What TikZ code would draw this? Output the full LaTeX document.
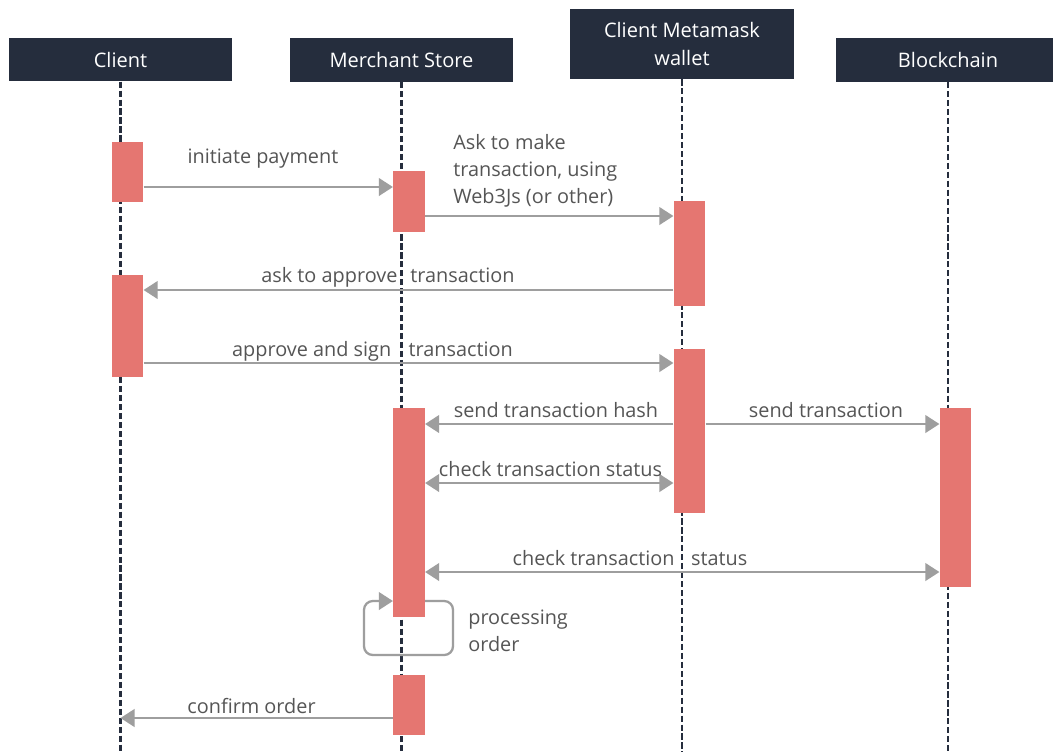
\documentclass[tikz,border=0pt]{standalone}
\usepackage{fontspec}
\setmainfont{Open Sans}
\usetikzlibrary{arrows.meta,positioning}
\definecolor{seqNavy}{RGB}{37,45,61}
\definecolor{seqRed}{RGB}{229,118,113}
\definecolor{seqGrey}{RGB}{158,158,158}
\definecolor{seqText}{RGB}{85,85,85}

\begin{document}
\begin{tikzpicture}[
    x=0.02cm, y=-0.02cm,
    head/.style={fill=seqNavy, text=white, align=center, minimum width=4.48cm, minimum height=0.87cm, inner sep=0pt, font=\fontsize{11.4}{15.4}\selectfont},
    act/.style={fill=seqRed, minimum width=0.63cm, inner sep=0pt},
    lifeline/.style={seqNavy, line width=1.2pt, dash pattern=on 3.5pt off 1.6pt},
    msg/.style={-{Triangle[length=8pt,width=10pt]}, line width=1.3pt, seqGrey},
    both/.style={{Triangle[length=8pt,width=10pt]}-{Triangle[length=8pt,width=10pt]}, line width=1.3pt, seqGrey},
    lbl/.style={text=seqText, align=left, inner sep=0pt, font=\fontsize{11.3}{15.2}\selectfont}
  ]
  \path[use as bounding box, clip] (0,0) rectangle (1053,752);
  \fill[white] (0,0) rectangle (1053,752);

  % participants
  \node[head] (client) at (120.5,59.5) {Client};
  \node[head] (store) at (401.5,60) {Merchant Store};
  \node[head, minimum height=1.4cm] (wallet) at (682,44) {Client Metamask\\wallet};
  \node[head] (chain) at (948,60) {Blockchain};

  % lifelines
  \foreach \p in {client,store,wallet,chain}
    \draw[lifeline] (\p.south) -- (\p.south |- 0,752);

  % activations
  \node[act, minimum height=1.2cm] (a1) at (127.5,172) {};
  \node[act, minimum height=1.22cm] (m1) at (409,201.5) {};
  \node[act, minimum height=2.1cm] (w1) at (689.5,253.5) {};
  \node[act, minimum height=2.04cm] (a2) at (127.5,326) {};
  \node[act, minimum height=3.28cm] (w2) at (689.5,431) {};
  \node[act, minimum height=4.18cm] (m2) at (409,512.5) {};
  \node[act, minimum height=3.58cm] (b1) at (955.5,497.5) {};
  \node[act, minimum height=1.2cm] (m3) at (409,705) {};

  % messages
  \draw[msg] (a1.east |- 0,187) -- (m1.west |- 0,187);
  \node[lbl] (t1) at (263,159) {initiate payment};

  \draw[msg] (m1.east |- 0,216) -- (w1.west |- 0,216);
  \node[lbl, anchor=west] (t2) at (453,171) {Ask to make\\transaction, using\\Web3Js (or other)};

  \draw[msg] (w1.west |- 0,290) -- (a2.east |- 0,290);
  \node[lbl] (t3) at (388,277) {ask to approve\hspace{4.5pt} transaction};

  \draw[msg] (a2.east |- 0,363) -- (w2.west |- 0,363);
  \node[lbl] (t4) at (372.5,351) {approve and sign\hspace{7pt} transaction};

  \draw[msg] (w2.west |- 0,424) -- (m2.east |- 0,424);
  \node[lbl] (t5) at (556,410) {send transaction hash};

  \draw[msg] (w2.east |- 0,424) -- (b1.west |- 0,424);
  \node[lbl] (t6) at (826,410) {send transaction};

  \draw[both] (m2.east |- 0,483) -- (w2.west |- 0,483);
  \node[lbl] (t7) at (550.5,469) {check transaction status};

  \draw[both] (m2.east |- 0,572) -- (b1.west |- 0,572);
  \node[lbl] (t8) at (630,558) {check transaction\hspace{6.5pt} status};

  % self call
  \draw[msg, rounded corners=5pt] (m2.east |- 0,601) -- (453,601) -- (453,655) -- (364,655) -- (364,601) -- (m2.west |- 0,601);
  \node[lbl, anchor=west] (t9) at (468,631) {processing\\order};

  \draw[msg] (m3.west |- 0,718) -- (client.south |- 0,718);
  \node[lbl] (t10) at (251.5,706) {confirm order};
\end{tikzpicture}
\end{document}
